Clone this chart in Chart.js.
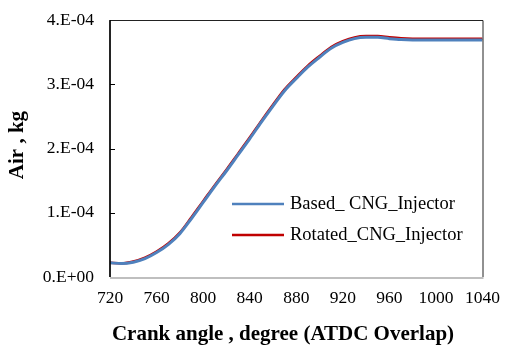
<!DOCTYPE html>
<html>
<head>
<meta charset="utf-8">
<script src="https://cdn.jsdelivr.net/npm/chart.js@4.4.1/dist/chart.umd.min.js"></script>
<style>
  body { margin: 0; background: #fff; }
  #wrap { width: 511px; height: 347px; }
</style>
</head>
<body>
<div id="wrap"><canvas id="airChart" width="511" height="347"></canvas></div>
<script>
// angulo de manivela (graus) e massa de ar (kg)
const crankAngles = [720, 730, 740, 750, 760, 770, 780, 790, 800, 810, 820, 830, 840, 850, 860, 870, 880, 890, 900, 910, 920, 930, 940, 950, 960, 970, 980, 990, 1000, 1010, 1020, 1030, 1040];
const basedAir = [2.2e-5, 2.1e-5, 2.3e-5, 2.85e-5, 3.8e-5, 5.05e-5, 6.75e-5, 9.1e-5, 1.16e-4, 1.41e-4, 1.65e-4, 1.90e-4, 2.15e-4, 2.41e-4, 2.66e-4, 2.90e-4, 3.09e-4, 3.27e-4, 3.42e-4, 3.56e-4, 3.65e-4, 3.71e-4, 3.73e-4, 3.73e-4, 3.71e-4, 3.695e-4, 3.69e-4, 3.69e-4, 3.69e-4, 3.69e-4, 3.69e-4, 3.69e-4, 3.69e-4];
const rotatedAir = [2.2e-5, 2.12e-5, 2.4e-5, 3.0e-5, 3.95e-5, 5.2e-5, 6.9e-5, 9.3e-5, 1.18e-4, 1.43e-4, 1.67e-4, 1.92e-4, 2.17e-4, 2.43e-4, 2.68e-4, 2.92e-4, 3.11e-4, 3.29e-4, 3.44e-4, 3.58e-4, 3.67e-4, 3.73e-4, 3.75e-4, 3.75e-4, 3.73e-4, 3.715e-4, 3.71e-4, 3.71e-4, 3.71e-4, 3.71e-4, 3.71e-4, 3.71e-4, 3.71e-4];
const seriesNames = ['Based_ CNG_Injector', 'Rotated_CNG_Injector'];
const xTicks = [720, 760, 800, 840, 880, 920, 960, 1000, 1040];
const yTicks = [0, 1e-4, 2e-4, 3e-4, 4e-4];
const xTitle = 'Crank angle , degree (ATDC Overlap)';
const yTitle = 'Air , kg';

const serif = "'Liberation Serif', 'Times New Roman', serif";

function toPoints(values) {
    return crankAngles.map((a, i) => ({ x: a, y: values[i] }));
}

function sciLabel(v) {
    if (v === 0) return '0.E+00';
    const exp = Math.floor(Math.log10(Math.abs(v)) + 1e-9);
    const mant = Math.round(v / Math.pow(10, exp));
    const sign = exp < 0 ? '-' : '+';
    return mant + '.E' + sign + String(Math.abs(exp)).padStart(2, '0');
}

// moldura, marcas internas do eixo y, titulos e legenda
const framePlugin = {
    id: 'frame',
    afterDraw(chart) {
        const ctx = chart.ctx;
        const a = chart.chartArea;
        const yScale = chart.scales.y;
        ctx.save();
        ctx.strokeStyle = '#222';
        ctx.lineWidth = 1;
        ctx.beginPath();
        ctx.moveTo(a.left, a.bottom);
        ctx.lineTo(a.left, a.top + 0.5);
        ctx.lineTo(a.right + 0.5, a.top + 0.5);
        ctx.lineTo(a.right + 0.5, a.bottom);
        ctx.stroke();

        ctx.strokeStyle = '#000';
        ctx.lineWidth = 1.5;
        ctx.beginPath();
        ctx.moveTo(a.left, a.top);
        ctx.lineTo(a.left, a.bottom);
        ctx.stroke();

        ctx.strokeStyle = '#bfbfbf';
        ctx.lineWidth = 2;
        ctx.beginPath();
        ctx.moveTo(a.left, a.bottom + 1);
        ctx.lineTo(a.right + 1, a.bottom + 1);
        ctx.stroke();

        ctx.strokeStyle = '#000';
        ctx.lineWidth = 1;
        yTicks.forEach(v => {
            if (v === 0 || v === 4e-4) return;
            const py = Math.round(yScale.getPixelForValue(v)) + 0.5;
            ctx.beginPath();
            ctx.moveTo(a.left, py);
            ctx.lineTo(a.left + 5, py);
            ctx.stroke();
        });

        // titulos dos eixos
        ctx.fillStyle = '#000';
        ctx.font = 'bold 21px ' + serif;
        ctx.textAlign = 'center';
        ctx.textBaseline = 'middle';
        ctx.fillText(xTitle, 283, 335);
        ctx.save();
        ctx.translate(18, 145);
        ctx.rotate(-Math.PI / 2);
        ctx.fillText(yTitle, 0, 0);
        ctx.restore();

        // legenda
        const lx = 232, ly = 204, gap = 31;
        ctx.textAlign = 'left';
        chart.data.datasets.forEach((ds, i) => {
            const y = ly + i * gap;
            ctx.strokeStyle = ds.borderColor;
            ctx.lineWidth = 2.5;
            ctx.beginPath();
            ctx.moveTo(lx, y);
            ctx.lineTo(lx + 52, y);
            ctx.stroke();
            ctx.fillStyle = '#000';
            ctx.font = '18.5px ' + serif;
            ctx.fillText(ds.label, lx + 58, y);
        });
        ctx.restore();
    }
};

const ctx = document.getElementById('airChart').getContext('2d');
new Chart(ctx, {
    type: 'line',
    data: {
        datasets: [{
            label: seriesNames[0],
            data: toPoints(basedAir),
            borderColor: '#4f81bd',
            borderWidth: 3,
            pointRadius: 0,
            cubicInterpolationMode: 'monotone',
            fill: false
        }, {
            label: seriesNames[1],
            data: toPoints(rotatedAir),
            borderColor: '#c00000',
            borderWidth: 2.5,
            pointRadius: 0,
            cubicInterpolationMode: 'monotone',
            fill: false
        }]
    },
    options: {
        responsive: false,
        animation: false,
        layout: { padding: { left: 0, right: 20, top: 20, bottom: 0 } },
        plugins: {
            legend: { display: false },
            tooltip: { enabled: false }
        },
        scales: {
            x: {
                type: 'linear',
                min: 720,
                max: 1040,
                afterFit(scale) { scale.height = 70; },
                afterBuildTicks(scale) {
                    scale.ticks = xTicks.map(v => ({ value: v }));
                },
                grid: { display: false, drawTicks: false },
                border: { display: false },
                ticks: {
                    color: '#000',
                    padding: 11,
                    maxRotation: 0,
                    font: { family: serif, size: 17.5 },
                    callback: v => String(v)
                }
            },
            y: {
                type: 'linear',
                min: 0,
                max: 4e-4,
                afterFit(scale) { scale.width = 110; },
                afterBuildTicks(scale) {
                    scale.ticks = yTicks.map(v => ({ value: v }));
                },
                // tick invisivel so para afastar os rotulos do eixo
                grid: { display: true, drawOnChartArea: false, drawTicks: true, tickLength: 16, color: 'rgba(0,0,0,0)' },
                border: { display: false },
                ticks: {
                    color: '#000',
                    padding: 0,
                    font: { family: serif, size: 17.5 },
                    callback: v => sciLabel(v)
                }
            }
        }
    },
    plugins: [framePlugin]
});
</script>
</body>
</html>
